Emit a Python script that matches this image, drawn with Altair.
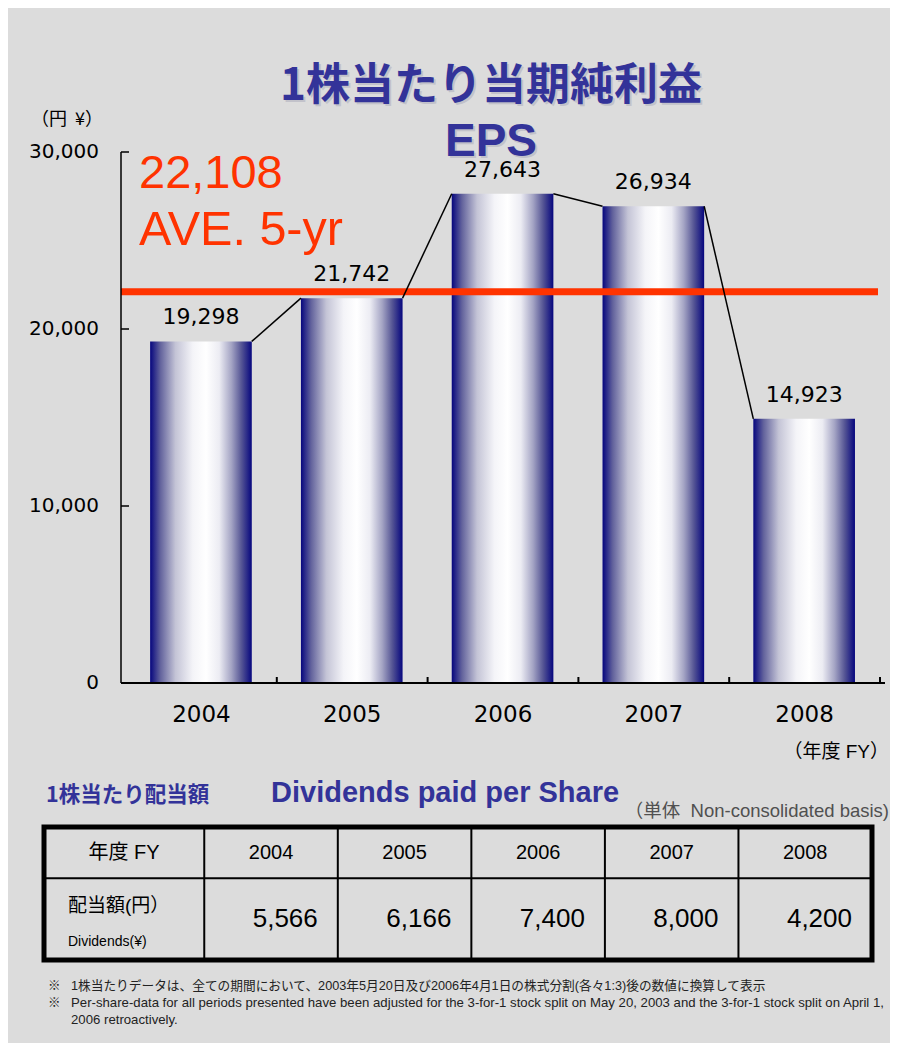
import altair as alt
import pandas as pd

# ---------------- data ----------------
years = ["2004", "2005", "2006", "2007", "2008"]
eps = [19298, 21742, 27643, 26934, 14923]
dividends = [5566, 6166, 7400, 8000, 4200]
eps_ticks = [0, 10000, 20000, 30000]

title_jp = "1株当たり当期純利益"
title_en = "EPS"
unit_y = "（円\u00a0\u00a0¥）"
unit_x = "（年度 FY）"
avg_caption = "AVE. 5-yr"
div_title_jp = "1株当たり配当額"
div_title_en = "Dividends paid per Share"
div_basis = "（単体\u00a0\u00a0Non-consolidated basis)"
table_corner = "年度 FY"
row_label_jp = "配当額(円）"
row_label_en = "Dividends(¥)"
note_mark = "※"
note_lines = [
    "1株当たりデータは、全ての期間において、2003年5月20日及び2006年4月1日の株式分割(各々1:3)後の数値に換算して表示",
    "Per-share-data for all periods presented have been adjusted for the 3-for-1 stock split on May 20, 2003 and the 3-for-1 stock split on April 1,",
    "2006 retroactively.",
]

# ---------------- layout / style ----------------
W, H = 764, 531
NAVY_TITLE = "#333399"
RED = "#ff3300"
LATIN = "Liberation Sans"
SPACED = "DejaVu Sans"
CJK = "Noto Sans CJK JP"
MIXED = "Liberation Sans, Noto Sans CJK JP"
BAR_L, BAR_R = 0.16, 0.834

n = len(years)
avg = sum(eps) / n

bars_df = pd.DataFrame({
    "year": years,
    "eps": eps,
    "base": [0] * n,
    "x0": [i + BAR_L for i in range(n)],
    "x1": [i + BAR_R for i in range(n)],
    "xc": [i + (BAR_L + BAR_R) / 2 for i in range(n)],
    "xm": [i + 0.5 for i in range(n)],
})
links_df = pd.DataFrame({
    "x0": [i + BAR_R for i in range(n - 1)],
    "x1": [i + 1 + BAR_L for i in range(n - 1)],
    "y0": eps[:-1],
    "y1": eps[1:],
})

xs = alt.Scale(domain=[0, n], nice=False, zero=False)
ys = alt.Scale(domain=[eps_ticks[0], eps_ticks[-1]], nice=False)

grad = alt.LinearGradient(
    gradient="linear",
    stops=[
        alt.GradientStop(color="#06067e", offset=0),
        alt.GradientStop(color="#62629c", offset=0.1),
        alt.GradientStop(color="#c4c4d6", offset=0.25),
        alt.GradientStop(color="#f4f4f8", offset=0.42),
        alt.GradientStop(color="#ffffff", offset=0.55),
        alt.GradientStop(color="#ececf3", offset=0.68),
        alt.GradientStop(color="#a4a4c4", offset=0.8),
        alt.GradientStop(color="#545494", offset=0.9),
        alt.GradientStop(color="#06067e", offset=1),
    ],
    x1=0, x2=1, y1=0, y2=0,
)

bars = alt.Chart(bars_df).mark_bar(color=grad, orient="vertical").encode(
    x=alt.X("x0:Q", scale=xs, axis=None),
    x2="x1:Q",
    y=alt.Y("eps:Q", scale=ys, axis=None),
    y2="base:Q",
)

links = alt.Chart(links_df).mark_rule(color="black", strokeWidth=1.5).encode(
    x=alt.X("x0:Q", scale=xs, axis=None),
    x2="x1:Q",
    y=alt.Y("y0:Q", scale=ys, axis=None),
    y2="y1:Q",
)

bar_labels = alt.Chart(bars_df).mark_text(
    font=SPACED, fontSize=22, color="black", baseline="alphabetic", dy=-17
).encode(
    x=alt.X("xc:Q", scale=xs, axis=None),
    y=alt.Y("eps:Q", scale=ys, axis=None),
    text=alt.Text("eps:Q", format=","),
)

x_labels = alt.Chart(bars_df).mark_text(
    font=SPACED, fontSize=23, color="black", baseline="alphabetic"
).encode(
    x=alt.X("xm:Q", scale=xs, axis=None),
    y=alt.value(H + 39),
    text="year:N",
)

avg_df = pd.DataFrame({"avg": [avg], "label": [f"{avg:,.0f}"]})
avg_line = alt.Chart(avg_df).mark_rule(color=RED, strokeWidth=7).encode(
    y=alt.Y("avg:Q", scale=ys, axis=None),
    x=alt.value(0),
    x2=alt.value(757),
)
avg_value = alt.Chart(avg_df).mark_text(
    font=LATIN, fontSize=47, color=RED, align="left", baseline="alphabetic"
).encode(x=alt.value(18), y=alt.value(36), text="label:N")

y_tick_df = pd.DataFrame({"v": eps_ticks})
y_ticks = alt.Chart(y_tick_df).mark_rule(color="black", strokeWidth=1.5).encode(
    y=alt.Y("v:Q", scale=ys, axis=None), x=alt.value(0), x2=alt.value(8)
)
y_labels = alt.Chart(y_tick_df).mark_text(
    font=SPACED, fontSize=20, color="black", align="right", baseline="middle", dx=-22
).encode(
    y=alt.Y("v:Q", scale=ys, axis=None), x=alt.value(0), text=alt.Text("v:Q", format=",")
)
x_tick_df = pd.DataFrame({"b": list(range(1, n + 1))})
x_ticks = alt.Chart(x_tick_df).mark_rule(color="black", strokeWidth=2).encode(
    x=alt.X("b:Q", scale=xs, axis=None), y=alt.value(H), y2=alt.value(H - 6)
)
y_domain = alt.Chart(avg_df).mark_rule(color="black", strokeWidth=1.5).encode(
    x=alt.value(0), y=alt.value(0), y2=alt.value(H)
)
x_domain = alt.Chart(avg_df).mark_rule(color="black", strokeWidth=2).encode(
    y=alt.value(H), x=alt.value(0), x2=alt.value(W)
)


def label(text, x, y, **kw):
    base = dict(baseline="alphabetic")
    base.update(kw)
    return alt.Chart(pd.DataFrame({"t": [text]})).mark_text(**base).encode(
        x=alt.value(x), y=alt.value(y), text="t:N"
    )


SHADOW = "#c2c2ca"
NOTE = "#222222"
RIGHT_EDGE = 768
texts = [
    label(title_jp, 372, -50, font=CJK, fontSize=44, fontWeight="bold", color=SHADOW, align="center"),
    label(title_jp, 370, -52, font=CJK, fontSize=44, fontWeight="bold", color=NAVY_TITLE, align="center"),
    label(title_en, 372, 6, font=LATIN, fontSize=46, fontWeight="bold", color=SHADOW, align="center"),
    label(title_en, 370, 4, font=LATIN, fontSize=46, fontWeight="bold", color=NAVY_TITLE, align="center"),
    label(unit_y, -90, -27, font=CJK, fontSize=18, color="black", align="left"),
    label(avg_caption, 18, 93, font=LATIN, fontSize=48.5, color=RED, align="left"),
    label(unit_x, RIGHT_EDGE, 606, font=MIXED, fontSize=19, color="black", align="right"),
    label(div_title_jp, -75, 650, font=CJK, fontSize=21.5, fontWeight="bold", color=NAVY_TITLE, align="left"),
    label(div_title_en, 150, 650, font=LATIN, fontSize=29, fontWeight="bold", color=NAVY_TITLE, align="left"),
    label(div_basis, RIGHT_EDGE, 665, font=MIXED, fontSize=18.5, color="#505050", align="right"),
    label(note_mark, -73, 838, font=CJK, fontSize=12.5, color=NOTE, align="left"),
    label(note_lines[0], -50, 838, font=MIXED, fontSize=12.7, color=NOTE, align="left"),
    label(note_mark, -73, 855, font=CJK, fontSize=12.5, color=NOTE, align="left"),
    label(note_lines[1], -50, 855, font=MIXED, fontSize=13.2, color=NOTE, align="left"),
    label(note_lines[2], -50, 872, font=MIXED, fontSize=13.2, color=NOTE, align="left"),
]

main = alt.layer(
    bars, avg_line, links, y_domain, x_domain, y_ticks, x_ticks,
    y_labels, x_labels, bar_labels, avg_value, *texts
)

# ---------------- table ----------------
col_w = [1.2] + [1.0] * n
edges = [0.0]
for w in col_w:
    edges.append(edges[-1] + w)
ROW_H, ROW2 = 1.0, 2.6

tx = alt.Scale(domain=[0, edges[-1]], range=[-77, 751], nice=False, zero=False)
ty = alt.Scale(domain=[0, ROW2], range=[675, 808], nice=False, zero=False)

head_df = pd.DataFrame({
    "t": [table_corner] + years,
    "xc": [(edges[j] + edges[j + 1]) / 2 for j in range(n + 1)],
    "yc": [ROW_H / 2] * (n + 1),
})
val_df = pd.DataFrame({
    "v": dividends,
    "xr": edges[2:],
    "yc": [(ROW_H + ROW2) / 2] * n,
})
rowlab_df = pd.DataFrame({
    "t": [row_label_jp, row_label_en],
    "x": [0.0, 0.0],
    "y": [1.667, 2.333],
    "size": [19, 14],
})
vlines_df = pd.DataFrame({"x": edges[1:-1], "y0": [0] * n, "y1": [ROW2] * n})
hline_df = pd.DataFrame({"x0": [0.0], "x1": [edges[-1]], "y": [ROW_H]})
frame_df = pd.DataFrame({"x0": [0.0], "x1": [edges[-1]], "y0": [0.0], "y1": [ROW2]})

t_frame = alt.Chart(frame_df).mark_rect(fillOpacity=0, stroke="black", strokeWidth=5).encode(
    x=alt.X("x0:Q", scale=tx, axis=None), x2="x1:Q",
    y=alt.Y("y0:Q", scale=ty, axis=None), y2="y1:Q",
)
t_vlines = alt.Chart(vlines_df).mark_rule(color="black", strokeWidth=2).encode(
    x=alt.X("x:Q", scale=tx, axis=None),
    y=alt.Y("y0:Q", scale=ty, axis=None), y2="y1:Q",
)
t_hline = alt.Chart(hline_df).mark_rule(color="black", strokeWidth=2).encode(
    x=alt.X("x0:Q", scale=tx, axis=None), x2="x1:Q",
    y=alt.Y("y:Q", scale=ty, axis=None),
)
t_head = alt.Chart(head_df).mark_text(font=MIXED, fontSize=20, color="black", baseline="middle").encode(
    x=alt.X("xc:Q", scale=tx, axis=None),
    y=alt.Y("yc:Q", scale=ty, axis=None),
    text="t:N",
)
t_vals = alt.Chart(val_df).mark_text(
    font=LATIN, fontSize=26, color="black", baseline="middle", align="right", dx=-20
).encode(
    x=alt.X("xr:Q", scale=tx, axis=None),
    y=alt.Y("yc:Q", scale=ty, axis=None),
    text=alt.Text("v:Q", format=","),
)
t_rowlab = alt.Chart(rowlab_df).mark_text(
    font=MIXED, color="black", baseline="alphabetic", align="left", dx=24
).encode(
    x=alt.X("x:Q", scale=tx, axis=None),
    y=alt.Y("y:Q", scale=ty, axis=None),
    size=alt.Size("size:Q", scale=None, legend=None),
    text="t:N",
)

table = alt.layer(t_frame, t_vlines, t_hline, t_head, t_vals, t_rowlab)

chart = (
    alt.layer(main, table)
    .resolve_scale(x="independent", y="independent")
    .properties(
        width=W,
        height=H,
        autosize=alt.AutoSizeParams(type="none"),
        padding={"left": 113, "top": 144, "right": 5, "bottom": 360},
        background="#dcdcdc",
    )
    .configure_view(strokeWidth=0)
)

chart.save("out.html", embed_options={"renderer": "svg", "actions": False})
